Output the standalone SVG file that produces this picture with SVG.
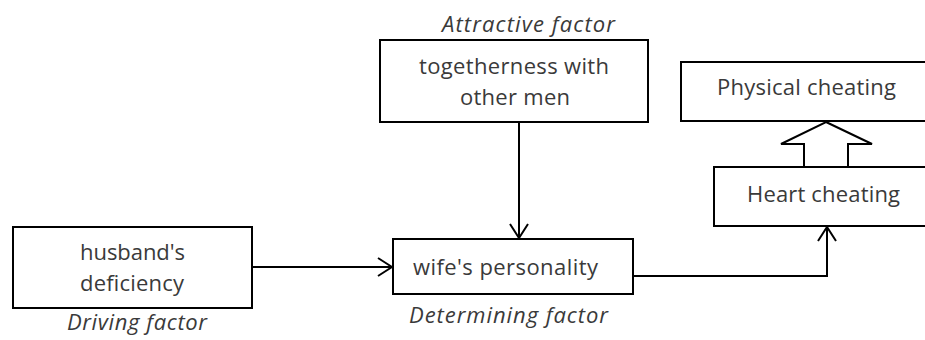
<svg xmlns="http://www.w3.org/2000/svg" width="925" height="340" viewBox="0 0 925 340">
<defs>
<style>
.box{fill:#fff;stroke:#000;stroke-width:2}
.t{font-family:"Open Sans","Liberation Sans",sans-serif;font-size:22px;fill:#3a3a3a}
.i{font-style:italic}
.c{fill:none;stroke:#000;stroke-width:2}
</style>
<marker id="ah" viewBox="0 0 16 20" refX="15" refY="10" markerWidth="16" markerHeight="20" markerUnits="userSpaceOnUse" orient="auto">
<path d="M1,1 L15,10 L1,19" fill="none" stroke="#000" stroke-width="2"/>
</marker>
</defs>
<rect width="925" height="340" fill="#fff"/>
<g id="connectors">
<path class="c" d="M252,267 H392" marker-end="url(#ah)"/>
<path class="c" d="M519,122 V238" marker-end="url(#ah)"/>
<path class="c" d="M633,276 H827 V227" marker-end="url(#ah)"/>
<path id="block-arrow" d="M826,122 L872,144 L848,144 L848,167 L804,167 L804,144 L781,144 Z" fill="#fff" stroke="#000" stroke-width="2" stroke-linejoin="miter"/>
</g>
<g id="attractive">
<text class="t i" x="442" y="32" textLength="173" lengthAdjust="spacing">Attractive factor</text>
<rect class="box" x="380" y="40" width="268" height="82"/>
<text class="t" x="419" y="74" textLength="190" lengthAdjust="spacing">togetherness with</text>
<text class="t" x="460" y="105" textLength="110" lengthAdjust="spacing">other men</text>
</g>
<g id="husband">
<rect class="box" x="13" y="227" width="239" height="81"/>
<text class="t" x="80" y="260" textLength="105" lengthAdjust="spacing">husband's</text>
<text class="t" x="80" y="291" textLength="104" lengthAdjust="spacing">deficiency</text>
<text class="t i" x="67" y="330" textLength="140" lengthAdjust="spacing">Driving factor</text>
</g>
<g id="wife">
<rect class="box" x="393" y="239" width="240" height="55"/>
<text class="t" x="413" y="275" textLength="185" lengthAdjust="spacing">wife's personality</text>
<text class="t i" x="409" y="323" textLength="199" lengthAdjust="spacing">Determining factor</text>
</g>
<g id="physical">
<rect class="box" x="681" y="62" width="252" height="59"/>
<text class="t" x="717" y="95" textLength="179" lengthAdjust="spacing">Physical cheating</text>
</g>
<g id="heart">
<rect class="box" x="714" y="167" width="219" height="59"/>
<text class="t" x="747" y="202" textLength="153" lengthAdjust="spacing">Heart cheating</text>
</g>
</svg>
